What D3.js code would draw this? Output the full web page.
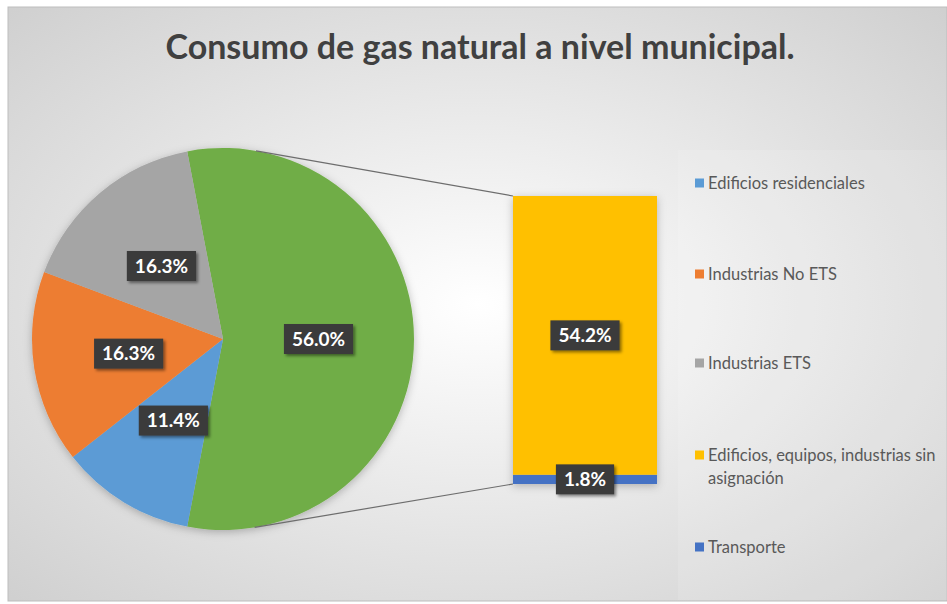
<!DOCTYPE html>
<html>
<head>
<meta charset="utf-8">
<script src="https://cdn.jsdelivr.net/npm/d3@7.9.0/dist/d3.min.js"></script>
<style>
  body { margin: 0; background: #fff; }
  svg { display: block; }
</style>
</head>
<body>
<svg id="chart"></svg>
<script>
const title = "Consumo de gas natural a nivel municipal.";

// pie slices (rest of the pie is the combined "other" slice)
const pieCategories = ["Edificios residenciales", "Industrias No ETS", "Industrias ETS"];
const pieValues = [11.4, 16.3, 16.3];
const pieColors = ["#5b9bd5", "#ed7d31", "#a5a5a5"];

// the stacked bar that explodes the combined slice
const barCategories = ["Edificios, equipos, industrias sin asignación", "Transporte"];
const barValues = [54.2, 1.8];
const barColors = ["#ffc000", "#4472c4"];

const otherLabel = "56.0%";
const otherColor = "#70ad47";

const W = 947, H = 604;

const svg = d3.select("#chart").attr("width", W).attr("height", H);
const defs = svg.append("defs");

const grad = defs.append("radialGradient")
  .attr("id", "bg")
  .attr("cx", "0.5").attr("cy", "0.5").attr("r", "0.7");
grad.append("stop").attr("offset", "0%").attr("stop-color", "#ffffff");
grad.append("stop").attr("offset", "100%").attr("stop-color", "#d0d0d0");

const shadow = defs.append("filter").attr("id", "lblShadow")
  .attr("x", "-20%").attr("y", "-20%").attr("width", "150%").attr("height", "160%");
shadow.append("feDropShadow").attr("dx", 2).attr("dy", 2)
  .attr("stdDeviation", 1.5).attr("flood-color", "#000").attr("flood-opacity", 0.45);

const softShadow = defs.append("filter").attr("id", "softShadow")
  .attr("x", "-20%").attr("y", "-20%").attr("width", "140%").attr("height", "140%");
softShadow.append("feDropShadow").attr("dx", 0).attr("dy", 2)
  .attr("stdDeviation", 4).attr("flood-color", "#000").attr("flood-opacity", 0.25);

// chart area
svg.append("rect")
  .attr("x", 8).attr("y", 7).attr("width", W - 8).attr("height", H - 10)
  .attr("fill", "url(#bg)")
  .attr("stroke", "#bdbdbd").attr("stroke-width", 1);

// legend panel
svg.append("rect")
  .attr("x", 678).attr("y", 150).attr("width", W - 678).attr("height", 450)
  .attr("fill", "#ffffff").attr("opacity", 0.12);

svg.append("text")
  .attr("x", 480).attr("y", 59)
  .attr("text-anchor", "middle")
  .style("font-family", "Lato, 'Open Sans', sans-serif")
  .style("font-weight", "bold")
  .style("font-size", "34px")
  .attr("fill", "#404040")
  .text(title);

// ---- pie ----
const cx = 223, cy = 339, r = 191;
const otherValue = d3.sum(barValues);
const total = otherValue + d3.sum(pieValues);

const slices = [{ value: otherValue, color: otherColor, label: otherLabel }]
  .concat(pieValues.map((v, i) => ({ value: v, color: pieColors[i], label: v.toFixed(1) + "%" })));

const otherSpan = (otherValue / total) * 2 * Math.PI;
const start = Math.PI / 2 - otherSpan / 2;

const pie = d3.pie().sort(null).value(d => d.value)
  .startAngle(start).endAngle(start + 2 * Math.PI);
const arc = d3.arc().innerRadius(0).outerRadius(r);

const pieG = svg.append("g").attr("transform", `translate(${cx},${cy})`);
const arcs = pie(slices);

pieG.append("g").attr("filter", "url(#softShadow)")
  .selectAll("path")
  .data(arcs)
  .join("path")
  .attr("d", arc)
  .attr("fill", d => d.data.color);

// ---- bar ----
const barX = 513, barW = 144;
const y = d3.scaleLinear().domain([0, otherValue]).range([484, 196]);

const stack = [];
let acc = 0;
// Transporte at bottom, then the big block
for (let i = barValues.length - 1; i >= 0; i--) {
  stack.push({ y0: acc, y1: acc + barValues[i], color: barColors[i], label: barValues[i].toFixed(1) + "%" });
  acc += barValues[i];
}

const barG = svg.append("g");
barG.append("g").attr("filter", "url(#softShadow)")
  .selectAll("rect")
  .data(stack)
  .join("rect")
  .attr("x", barX)
  .attr("width", barW)
  .attr("y", d => y(d.y1))
  .attr("height", d => y(d.y0) - y(d.y1))
  .attr("fill", d => d.color);

// ---- connector lines (tangent to pie) ----
function tangentPoint(px, py, upper) {
  const dx = px - cx, dy = py - cy;
  const d = Math.hypot(dx, dy);
  const base = Math.atan2(dy, dx);
  const off = Math.acos(r / d);
  const a = upper ? base - off : base + off;
  return [cx + r * Math.cos(a), cy + r * Math.sin(a)];
}
const topCorner = [barX, y(otherValue)];
const botCorner = [barX, y(0)];
[[tangentPoint(topCorner[0], topCorner[1], true), topCorner],
 [tangentPoint(botCorner[0], botCorner[1], false), botCorner]].forEach(seg => {
  svg.append("line")
    .attr("x1", seg[0][0]).attr("y1", seg[0][1])
    .attr("x2", seg[1][0]).attr("y2", seg[1][1])
    .attr("stroke", "#6d6d6d").attr("stroke-width", 1.2);
});

// ---- data labels ----
function addLabel(x, yy, txt) {
  const g = svg.append("g").attr("transform", `translate(${x},${yy})`);
  const t = g.append("text")
    .attr("text-anchor", "middle")
    .attr("dy", "0.35em")
    .style("font-family", "Lato, 'Open Sans', sans-serif")
    .style("font-weight", "bold")
    .style("font-size", "19px")
    .attr("fill", "#ffffff")
    .text(txt);
  const w = t.node().getComputedTextLength() + 16;
  g.insert("rect", "text")
    .attr("x", -w / 2).attr("y", -15)
    .attr("width", w).attr("height", 30)
    .attr("fill", "#3b3b3b")
    .attr("filter", "url(#lblShadow)");
}

const labelArc = d3.arc().innerRadius(0).outerRadius(r);
arcs.forEach(a => {
  const [lx, ly] = labelArc.centroid(a);
  addLabel(cx + lx, cy + ly, a.data.label);
});
stack.forEach(s => {
  addLabel(barX + barW / 2, (y(s.y0) + y(s.y1)) / 2, s.label);
});

// ---- legend ----
const legendItems = pieCategories.map((c, i) => ({ name: c, color: pieColors[i] }))
  .concat(barCategories.map((c, i) => ({ name: c, color: barColors[i] })));
const legendY = [183, 274, 363, 455, 547];

const leg = svg.append("g")
  .style("font-family", "Lato, 'Open Sans', sans-serif")
  .style("font-size", "16.5px")
  .attr("fill", "#595959");

legendItems.forEach((d, i) => {
  const g = leg.append("g").attr("transform", `translate(695,${legendY[i]})`);
  g.append("rect").attr("x", 0).attr("y", -4.5).attr("width", 9).attr("height", 9).attr("fill", d.color);
  if (d.name.length > 30) {
    const parts = ["Edificios, equipos, industrias sin", "asignación"];
    parts.forEach((p, k) => {
      g.append("text").attr("x", 13).attr("y", k * 23).attr("dy", "0.35em").text(p);
    });
  } else {
    g.append("text").attr("x", 13).attr("dy", "0.35em").text(d.name);
  }
});
</script>
</body>
</html>
